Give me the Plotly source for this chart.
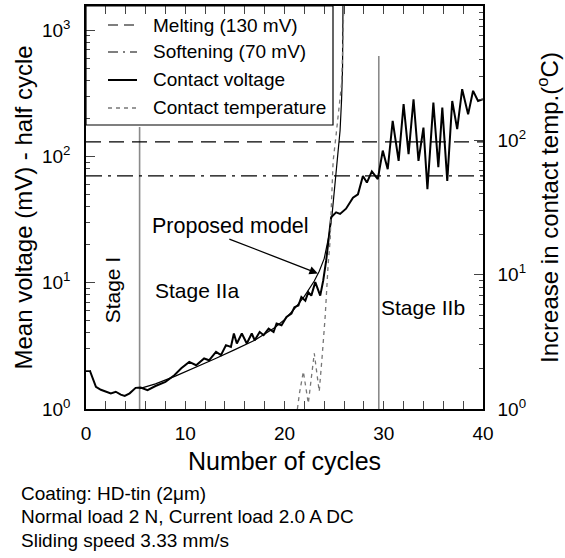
import plotly.graph_objects as go

# ---- data ----
cycles_v = [0, 0.4, 1.0, 1.5, 2.5, 3.0, 3.5, 3.9, 4.4, 5.0, 5.5, 6.2, 7.0, 8.0, 8.9, 9.6,
            10.4, 11.1, 11.9, 12.4, 13.1, 13.6, 14.1, 14.6, 14.9, 15.2, 15.7, 16.2, 16.7,
            17.0, 17.5, 17.9, 18.4, 18.9, 19.2, 19.7, 20.2, 20.7, 21.0, 21.4, 21.7, 22.1,
            22.4, 22.7, 23.1, 23.6, 23.9, 24.2, 24.7, 25.2, 25.6, 26.2, 26.9, 27.4, 27.9,
            28.3, 28.8, 29.4, 29.9, 30.4, 30.9, 31.5, 32.0, 32.5, 33.0, 33.5, 34.0, 34.4,
            35.0, 35.5, 35.9, 36.4, 36.9, 37.4, 37.9, 38.5, 39.0, 39.5, 40.0]
voltage_mv = [2.0, 2.0, 1.5, 1.42, 1.33, 1.37, 1.3, 1.27, 1.33, 1.47, 1.48, 1.41, 1.52, 1.64,
              1.85, 2.1, 2.36, 2.22, 2.51, 2.43, 2.83, 2.67, 3.2, 3.1, 3.96, 3.3, 3.96, 3.3,
              3.96, 3.5, 4.07, 3.84, 4.33, 4.07, 4.75, 4.6, 5.35, 5.7, 6.4, 6.6, 7.7, 7.2,
              8.4, 7.9, 10.1, 7.9, 10.4, 15, 33, 36, 35, 38.5, 47, 50, 70, 62, 76, 66, 111,
              79, 191, 92, 259, 104, 283, 92, 169, 55, 266, 82, 243, 64, 274, 164, 340, 215,
              330, 274, 283]

model_cycles = [5.4, 7, 9, 11, 13, 15, 17, 19, 20, 21, 22, 23, 23.5, 24, 24.5, 24.8, 25.1,
                25.4, 25.6, 25.75, 25.85, 25.9]
model_mv = [1.45, 1.58, 1.82, 2.12, 2.5, 2.95, 3.5, 4.4, 5.1, 6.2, 7.8, 10.3, 12.3, 15.5, 24,
            35, 60, 98, 160, 280, 500, 2000]

temp_cycles = [21.3, 21.5, 21.9, 22.2, 22.4, 22.7, 23.0, 23.2, 23.5, 23.8, 24.1, 24.4, 24.6,
               24.7, 24.9, 25.2, 25.5, 25.75, 25.9, 26.0]
temp_c = [1.0, 1.3, 1.9, 1.3, 1.1, 1.7, 2.6, 2.0, 1.35, 2.5, 4.9, 12, 18, 30, 70, 110, 180,
          263, 600, 1200]

melting_mv = 130
softening_mv = 70
stage_i_cycle = 5.4
stage_iib_cycle = 29.5
x_range = [0, 40]

x_tickvals = [0, 10, 20, 30, 40]
y_tickvals = [1, 10, 100, 1000]
y_ticktext = ["10<sup>0</sup>", "10<sup>1</sup>", "10<sup>2</sup>", "10<sup>3</sup>"]
y2_ticktext = ["10<sup>0</sup>", "10<sup>1</sup>", "10<sup>2</sup>", ""]
log_minor = [m * d for d in (1, 10, 100) for m in range(2, 10)]

legend_labels = ["Melting (130 mV)", "Softening (70 mV)", "Contact voltage", "Contact temperature"]
notes = ["Coating: HD-tin (2\u03bcm)", "Normal load 2 N, Current load 2.0 A DC",
         "Sliding speed 3.33 mm/s"]

FONT = "Liberation Sans, Arial, Helvetica, sans-serif"
GRAY = "#8a8a8a"

fig = go.Figure()

# stage boundaries
fig.add_trace(go.Scatter(x=[stage_i_cycle, stage_i_cycle], y=[1, 171], mode="lines",
                         line=dict(color=GRAY, width=1.6), showlegend=False, hoverinfo="skip"))
fig.add_trace(go.Scatter(x=[stage_iib_cycle, stage_iib_cycle], y=[1, 622], mode="lines",
                         line=dict(color=GRAY, width=1.6), showlegend=False, hoverinfo="skip"))
# melting / softening
fig.add_trace(go.Scatter(x=x_range, y=[melting_mv, melting_mv], mode="lines",
                         line=dict(color="black", width=1.2, dash="15px,8px"), showlegend=False))
fig.add_trace(go.Scatter(x=x_range, y=[softening_mv, softening_mv], mode="lines",
                         line=dict(color="black", width=1.2, dash="16px,6px,3px,6px"),
                         showlegend=False))
# model
fig.add_trace(go.Scatter(x=model_cycles, y=model_mv, mode="lines",
                         line=dict(color="black", width=1.2), showlegend=False))
# contact voltage
fig.add_trace(go.Scatter(x=cycles_v, y=voltage_mv, mode="lines",
                         line=dict(color="black", width=2), showlegend=False))
# contact temperature (right axis)
fig.add_trace(go.Scatter(x=temp_cycles, y=temp_c, mode="lines", yaxis="y2",
                         line=dict(color="#777777", width=1.3, dash="4px,4px"),
                         showlegend=False))

# ---- manual legend (paper coords) ----
L, R, T, B = 86, 483, 6, 409
def px(xp):
    return (xp - L) / (R - L)
def py(yp):
    return (B - yp) / (B - T)

shapes = [dict(type="rect", xref="paper", yref="paper", x0=0, x1=px(333), y0=py(125), y1=1,
               line=dict(color="black", width=1.2))]
row_y = [25, 52, 80, 108]
styles = [dict(color="black", width=1.2, dash="10px,6px"),
          dict(color="black", width=1.2, dash="10px,5px,2px,5px"),
          dict(color="black", width=2),
          dict(color="#777777", width=1.3, dash="4px,4px")]
annotations = []
for lab, yy, st in zip(legend_labels, row_y, styles):
    shapes.append(dict(type="line", xref="paper", yref="paper", x0=px(108), x1=px(137),
                       y0=py(yy), y1=py(yy), line=st))
    annotations.append(dict(xref="paper", yref="paper", x=px(151), y=py(yy), text=lab,
                            showarrow=False, xanchor="left", yanchor="middle",
                            font=dict(size=19)))

# stage labels and model annotation
annotations += [
    dict(xref="x", yref="y", x=2.62, y=0.939, text="Stage I", textangle=-90,
         showarrow=False, font=dict(size=21)),
    dict(xref="x", yref="y", x=11.2, y=0.939, text="Stage IIa", showarrow=False,
         font=dict(size=21)),
    dict(xref="x", yref="y", x=34.0, y=0.805, text="Stage IIb", showarrow=False,
         font=dict(size=21)),
    dict(xref="x", yref="y", x=14.6, y=1.452, text="Proposed model", showarrow=False,
         font=dict(size=21.5)),
    dict(xref="x", yref="y", x=23.36, y=1.073, text="", showarrow=True, ax=-90, ay=-35,
         arrowhead=2, arrowsize=1.3, arrowwidth=1.3, arrowcolor="black"),
]
for i, t in enumerate(notes):
    annotations.append(dict(xref="paper", yref="paper", x=px(19), y=py(493 + 23.5 * i), text=t,
                            showarrow=False, xanchor="left", yanchor="middle",
                            font=dict(size=19)))

fig.update_layout(
    width=565, height=558,
    margin=dict(l=L, r=565 - R, t=T, b=558 - B, autoexpand=False),
    paper_bgcolor="white", plot_bgcolor="white",
    font=dict(family=FONT, color="black"),
    showlegend=False,
    shapes=shapes, annotations=annotations,
    xaxis=dict(range=x_range, tickvals=x_tickvals, ticks="inside", ticklen=8, tickwidth=1.2,
               showline=True, linecolor="black", linewidth=1.5, mirror="allticks",
               showgrid=False, zeroline=False, tickfont=dict(size=19), ticklabelstandoff=6,
               automargin=False,
               minor=dict(dtick=2, ticks="inside", ticklen=4, tickwidth=1, showgrid=False),
               title=dict(text="Number of cycles", font=dict(size=25), standoff=10)),
    yaxis=dict(type="log", range=[0, 3.19], tickvals=y_tickvals, ticktext=y_ticktext,
               ticks="inside", ticklen=9, tickwidth=1.2, showline=True, linecolor="black",
               linewidth=1.5, showgrid=False, zeroline=False, tickfont=dict(size=19),
               ticklabelstandoff=10, automargin=False,
               minor=dict(tickmode="array", tickvals=log_minor, ticks="inside", ticklen=4,
                          tickwidth=1, showgrid=False),
               title=dict(text="Mean voltage (mV) - half cycle", font=dict(size=24),
                          standoff=3)),
    yaxis2=dict(type="log", range=[0, 3], overlaying="y", side="right", tickvals=y_tickvals,
                ticktext=y2_ticktext, ticks="inside", ticklen=9, tickwidth=1.2, showline=True,
                linecolor="black", linewidth=1.5, showgrid=False, zeroline=False,
                tickfont=dict(size=19), ticklabelstandoff=9, automargin=False,
                minor=dict(tickmode="array", tickvals=log_minor, ticks="inside", ticklen=4,
                           tickwidth=1, showgrid=False),
                title=dict(text="Increase in contact temp.(<sup>o</sup>C)", font=dict(size=24),
                           standoff=16)),
)

fig.write_html("out.html", config={"displayModeBar": False},
               post_script="document.body.style.margin='0px';")
